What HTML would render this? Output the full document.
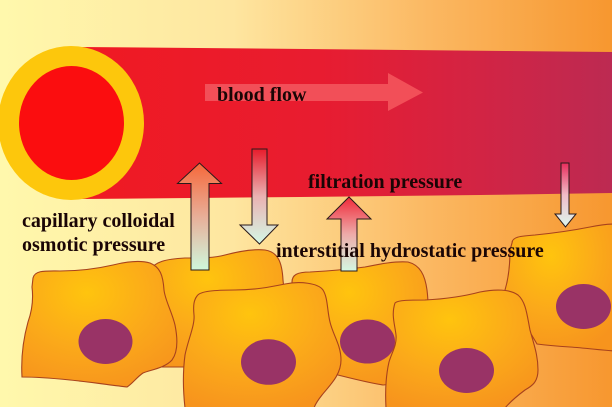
<!DOCTYPE html>
<html><head><meta charset="utf-8">
<style>
html,body{margin:0;padding:0;width:612px;height:407px;overflow:hidden;background:#fde8a0;}
svg{display:block;}
text{font-family:"Liberation Serif","DejaVu Serif",serif;font-weight:bold;font-size:20px;fill:#1a0505;}
</style></head>
<body>
<svg width="612" height="407" viewBox="0 0 612 407" xmlns="http://www.w3.org/2000/svg">
<defs>
  <linearGradient id="bg" x1="0" y1="0" x2="1" y2="0">
    <stop offset="0" stop-color="#fff8ac"/>
    <stop offset="0.38" stop-color="#fee6a0"/>
    <stop offset="0.7" stop-color="#fbb862"/>
    <stop offset="1" stop-color="#f7972f"/>
  </linearGradient>
  <linearGradient id="vessel" x1="0" y1="0" x2="1" y2="0">
    <stop offset="0" stop-color="#f01a22"/>
    <stop offset="0.45" stop-color="#e81c30"/>
    <stop offset="0.75" stop-color="#d22444"/>
    <stop offset="1" stop-color="#bc2a52"/>
  </linearGradient>
  <radialGradient id="cell" cx="0.42" cy="0.25" r="0.8">
    <stop offset="0" stop-color="#ffc40e"/>
    <stop offset="0.55" stop-color="#fba91a"/>
    <stop offset="1" stop-color="#f7941d"/>
  </radialGradient>
  <linearGradient id="a1" x1="0" y1="0" x2="0" y2="1">
    <stop offset="0" stop-color="#f6683a"/>
    <stop offset="0.5" stop-color="#e8ae98"/>
    <stop offset="1" stop-color="#cff7dc"/>
  </linearGradient>
  <linearGradient id="a2" x1="0" y1="0" x2="0" y2="1">
    <stop offset="0" stop-color="#e81c2c"/>
    <stop offset="0.5" stop-color="#eab2b2"/>
    <stop offset="1" stop-color="#d4f8e6"/>
  </linearGradient>
  <linearGradient id="a3" x1="0" y1="0" x2="0" y2="1">
    <stop offset="0" stop-color="#f02a3a"/>
    <stop offset="0.5" stop-color="#eeaaa8"/>
    <stop offset="1" stop-color="#d4f8e2"/>
  </linearGradient>
  <linearGradient id="a4" x1="0" y1="0" x2="0" y2="1">
    <stop offset="0" stop-color="#e82c5c"/>
    <stop offset="0.5" stop-color="#f0bcc8"/>
    <stop offset="1" stop-color="#def8ee"/>
  </linearGradient>
</defs>

<rect x="0" y="0" width="612" height="407" fill="url(#bg)"/>

<!-- blood vessel -->
<path d="M80,47 L306,49 L506,51 L614,52 L614,193 L480,195 L300,197 L80,199 Z" fill="url(#vessel)"/>
<ellipse cx="71" cy="123" rx="73" ry="77" fill="#fdc70c"/>
<ellipse cx="71.5" cy="123" rx="52.5" ry="57" fill="#fb0d0f"/>

<!-- blood flow arrow -->
<path d="M205,84 L388,84 L388,73 L423,92.5 L388,111 L388,101 L205,101 Z" fill="#f24f58"/>
<text x="217" y="101">blood flow</text>

<!-- cells: back layer -->
<g stroke="#a8421c" stroke-width="1.1" fill="url(#cell)">
  <!-- B -->
  <path d="M150,270 C155,262 165,259 185,258 C200,258 215,258 225,255 C240,251 255,249 265,250 C278,252 282,262 283,280 C285,300 290,330 288,350 C286,362 270,366 240,367 L160,367 C150,367 148,340 150,300 Z"/>
  <!-- D -->
  <path d="M292,282 C292,275 297,272 310,272 C330,271 350,269 365,267 C380,264 395,261 408,262 C420,265 425,275 427,290 C429,305 428,330 425,350 L420,382 L383,385 C365,382 350,378 338,375 L300,370 Z"/>
  <!-- F -->
  <path d="M512,243 C512,237 520,236 535,235 C555,233 575,230 590,227 C600,225 608,224 614,224 L614,351 C600,350 585,348 570,347 C555,346 545,345 537,344 L505,290 C508,280 510,265 510,250 Z"/>
</g>
<g fill="#993366">
  <ellipse cx="367.5" cy="341.5" rx="27.5" ry="22"/>
  <ellipse cx="583.5" cy="306.5" rx="27.5" ry="22.5"/>
</g>

<!-- cells: front layer -->
<g stroke="#a8421c" stroke-width="1.1" fill="url(#cell)">
  <!-- A -->
  <path d="M33,278 C35,270 45,271 60,271 C80,271 100,268 113,265 C125,262 140,260 150,263 C160,267 163,275 164,290 C165,300 172,312 175,325 C178,340 178,352 172,360 C165,368 150,370 143,373 C137,377 132,384 127,387 C110,385 90,382 70,380 C50,378 35,377 22,377 C21,360 23,340 28,322 C33,308 33,295 32,287 Z"/>
  <!-- C -->
  <path d="M197,296 C200,291 215,290 235,290 C255,290 270,287 285,284 C300,281 318,283 323,290 C328,298 327,310 330,322 C333,335 341,345 341,360 C341,375 330,385 322,395 C318,400 315,405 314,408 L185,408 C183,390 183,370 185,355 C188,340 195,325 194,315 C193,305 194,300 197,296 Z"/>
  <!-- E -->
  <path d="M395,303 C398,300 410,300 425,300 C445,299 465,296 480,292 C495,289 510,289 518,295 C526,302 527,315 530,330 C534,345 538,355 538,370 C538,382 532,386 525,390 C517,396 510,402 505,408 L386,408 C385,390 386,375 389,362 C392,352 397,345 396,335 C395,325 391,315 395,303 Z"/>
</g>
<g fill="#993366">
  <ellipse cx="105.5" cy="341.5" rx="27" ry="22.5"/>
  <ellipse cx="268.5" cy="362" rx="27.5" ry="22.8"/>
  <ellipse cx="466.5" cy="370.5" rx="27.5" ry="22.5"/>
</g>

<!-- pressure arrows -->
<g stroke="#2a1a1a" stroke-width="1">
  <path d="M191,270 L191,183.5 L177.5,183.5 L199.5,163 L221.5,183.5 L209,183.5 L209,270 Z" fill="url(#a1)"/>
  <path d="M252,149 L267,149 L267,225 L278,225 L259.5,244 L240,225 L252,225 Z" fill="url(#a2)"/>
  <path d="M341,271 L341,219 L327,219 L349,197 L371,219 L357,219 L357,271 Z" fill="url(#a3)"/>
  <path d="M561,163 L569,163 L569,214 L576,214 L565.5,227 L555,214 L561,214 Z" fill="url(#a4)"/>
</g>

<!-- labels -->
<text x="308" y="188">filtration pressure</text>
<text x="22" y="227">capillary colloidal</text>
<text x="22" y="251">osmotic pressure</text>
<text x="276" y="257">interstitial hydrostatic pressure</text>
</svg>
</body></html>
